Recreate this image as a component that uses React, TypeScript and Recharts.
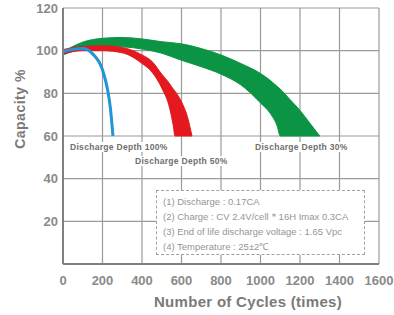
import React from "react";
import {
  ComposedChart,
  Area,
  Line,
  XAxis,
  YAxis,
  CartesianGrid,
} from "recharts";

// values (cycles -> capacity %)
const dod100Cycles = [0, 50, 100, 150, 200, 225, 240, 253];
const dod100Capacity = [99.5, 100.6, 101, 98.5, 91, 82, 73, 60];

const dod50Cycles = [0, 100, 200, 300, 400, 450, 500, 540, 558, 567, 600, 630, 653];
const dod50Lower = [98.5, 100, 100, 99, 94, 90, 82.5, 73, 65, 60, 60, 60, 60];
const dod50Upper = [100.5, 102, 102.3, 101.5, 98, 95, 89, 84.5, 82, 81, 76, 69, 60];

const dod30Cycles = [0, 100, 200, 300, 400, 500, 600, 700, 800, 900, 1000, 1050, 1085, 1100, 1150, 1200, 1250, 1300];
const dod30Lower = [98, 101, 102, 101.8, 100.8, 98.8, 95.5, 92.5, 89, 84, 75.5, 70.5, 64.5, 60, 60, 60, 60, 60];
const dod30Upper = [99.5, 104, 105.8, 106.2, 105.5, 104.2, 103.2, 101, 98, 94, 89.3, 86, 83.2, 82, 77, 72, 66, 60];

const xTicks = [0, 200, 400, 600, 800, 1000, 1200, 1400, 1600];
const yTicks = [0, 20, 40, 60, 80, 100, 120];

const notes = [
  "(1) Discharge : 0.17CA",
  "(2) Charge : CV 2.4V/cell\uFF0A16H Imax 0.3CA",
  "(3) End of life discharge voltage : 1.65 Vpc",
  "(4) Temperature : 25\u00B12\u2103",
];

const dod100 = dod100Cycles.map((c, i) => ({ cycles: c, cap: dod100Capacity[i] }));
const dod50 = dod50Cycles.map((c, i) => ({ cycles: c, cap: [dod50Lower[i], dod50Upper[i]] }));
const dod30 = dod30Cycles.map((c, i) => ({ cycles: c, cap: [dod30Lower[i], dod30Upper[i]] }));

const font = '"Liberation Sans", Arial, sans-serif';

const depthLabel: React.CSSProperties = {
  position: "absolute",
  background: "#fff",
  color: "#6e6e6e",
  fontSize: 8.5,
  fontWeight: "bold",
  letterSpacing: 0.3,
  lineHeight: "10px",
  padding: "0 2px",
  whiteSpace: "nowrap",
};

export default function App() {
  return (
    <div style={{ position: "absolute", left: 0, top: 0, width: 394, height: 315, background: "#fff", fontFamily: font }}>
      <ComposedChart
        width={394}
        height={315}
        margin={{ top: 8, right: 15, bottom: 21, left: 23 }}
      >
        <CartesianGrid stroke="#9a9a9a" strokeWidth={1.2} />
        <XAxis
          dataKey="cycles"
          type="number"
          domain={[0, 1600]}
          ticks={xTicks}
          height={30}
          tickLine={false}
          axisLine={{ stroke: "#808080", strokeWidth: 2 }}
          tick={{ fill: "#8a8a8a", fontSize: 13, fontWeight: "bold", fontFamily: font }}
          tickMargin={6}
          interval={0}
          allowDuplicatedCategory={false}
        />
        <YAxis
          type="number"
          domain={[0, 120]}
          ticks={yTicks}
          width={40}
          tickLine={false}
          axisLine={{ stroke: "#808080", strokeWidth: 2 }}
          tick={{ fill: "#8a8a8a", fontSize: 13, fontWeight: "bold", fontFamily: font }}
          tickFormatter={(v: number) => (v === 0 ? "" : String(v))}
          tickSize={3}
          tickMargin={2}
        />
        <Area
          data={dod30}
          dataKey="cap"
          type="monotone"
          fill="#0b9444"
          fillOpacity={1}
          stroke="#0b9444"
          strokeWidth={1}
          isAnimationActive={false}
          dot={false}
          activeDot={false}
        />
        <Area
          data={dod50}
          dataKey="cap"
          type="monotone"
          fill="#e3191f"
          fillOpacity={1}
          stroke="#e3191f"
          strokeWidth={1}
          isAnimationActive={false}
          dot={false}
          activeDot={false}
        />
        <Line
          data={dod100}
          dataKey="cap"
          type="monotone"
          stroke="#1e96d9"
          strokeWidth={3}
          dot={false}
          activeDot={false}
          isAnimationActive={false}
        />
      </ComposedChart>

      <div
        style={{
          position: "absolute",
          left: 20,
          top: 109,
          transform: "translate(-50%, -50%) rotate(-90deg)",
          color: "#7a7a7a",
          fontSize: 14,
          fontWeight: "bold",
          whiteSpace: "nowrap",
          letterSpacing: 0.5,
        }}
      >
        Capacity %
      </div>
      <div
        style={{
          position: "absolute",
          left: 248,
          top: 301,
          transform: "translate(-50%, -50%)",
          color: "#7a7a7a",
          fontSize: 15,
          fontWeight: "bold",
          whiteSpace: "nowrap",
          letterSpacing: 0.3,
        }}
      >
        Number of Cycles (times)
      </div>

      <div style={{ ...depthLabel, left: 68, top: 142 }}>Discharge Depth 100%</div>
      <div style={{ ...depthLabel, left: 133, top: 156 }}>Discharge Depth 50%</div>
      <div style={{ ...depthLabel, left: 253, top: 142 }}>Discharge Depth 30%</div>

      <div
        style={{
          position: "absolute",
          left: 156,
          top: 190,
          width: 209,
          height: 65,
          border: "1px dashed #a0a0a0",
          background: "#fff",
          boxSizing: "border-box",
          padding: "3px 0 0 6px",
          color: "#959595",
          fontSize: 9.5,
          lineHeight: "15px",
          whiteSpace: "nowrap",
        }}
      >
        {notes.map((n) => (
          <div key={n}>{n}</div>
        ))}
      </div>
    </div>
  );
}
